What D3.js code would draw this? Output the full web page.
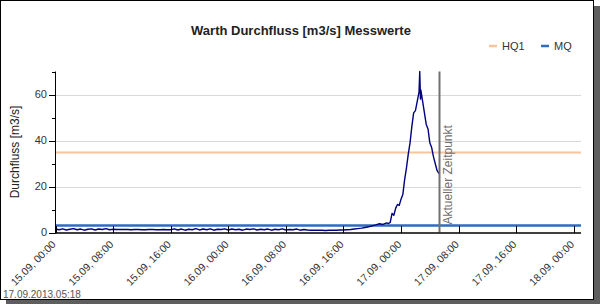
<!DOCTYPE html>
<html><head><meta charset="utf-8">
<script src="https://cdn.jsdelivr.net/npm/d3@7"></script>
<style>body{margin:0;background:#fff}svg{display:block;font-family:"Liberation Sans",Arial,sans-serif}</style>
</head><body><svg id="c" width="600" height="304"></svg>
<script>
// ---- data ----
const title = "Warth Durchfluss [m3/s] Messwerte";
const yLabel = "Durchfluss [m3/s]";
const stamp = "17.09.2013.05:18";
const nowLabel = "Aktueller Zeitpunkt";
const startTime = new Date(2013, 8, 15, 0, 0);
const endTime = new Date(2013, 8, 18, 1, 0);
const nowTime = new Date(2013, 8, 17, 5, 18);
const hq1 = 34.8;
const mq = 3.0;
const yMajorTicks = [0, 20, 40, 60];
const yMinorTicks = [10, 30, 50, 70];
const legendNames = ["HQ1", "MQ"];
// measurement hours after 15.09 00:00 (half-hourly, then quarter-hourly)
const hoursA = d3.range(0, 46, 0.5);
const flowA = [
  1.5,1.2,1.6,1.1,1.4,1.7,1.2,1.5,1.0,1.4,1.6,1.1,1.5,1.3,1.7,1.2,1.4,1.3,
  1.3,1.3,1.3,1.2,1.3,1.3,1.2,1.2,1.3,1.3,1.2,1.2,1.3,1.2,1.2,
  1.6,1.1,1.5,1.0,1.4,1.2,1.7,1.1,1.5,1.2,1.6,1.0,1.4,1.3,1.6,1.1,1.5,1.2,1.4,1.0,
  1.5,1.3,1.6,1.1,1.4,1.2,1.5,1.0,1.4,1.2,1.6,1.1,1.3,1.2,1.5,1.0,1.3,1.1,
  1.0,1.0,1.0,1.0,0.9,1.0,1.0,1.0,1.1,1.1,
  1.2,1.3,1.5,1.7,1.9,2.2,2.5,2.9,3.3,3.8,3.5
];
const hoursB = [46,46.25,46.5,46.75,47,47.25,47.5,47.75,48,48.25,48.5,48.75,49,49.25,49.5,49.75,50,50.25,50.5,50.6,50.7,50.75,51,51.25,51.5,51.75,52,52.25,52.5,52.75,53,53.3];
const flowB = [4.2,3.9,4.4,8.3,7.5,10.5,12.2,11.8,14.5,16.5,23,28,34,39,46,52,53,57,61,70,58,62,57,52,47,45,39,37,33,30,27,25.5];

const hours = hoursA.concat(hoursB);
const flow = flowA.concat(flowB);
const series = hours.map((h, i) => ({t: new Date(+startTime + h * 3600e3), v: flow[i]}));

// ---- chart ----
const svg = d3.select("#c");
// frame with shadow
svg.append("rect").attr("x", 6).attr("y", 6).attr("width", 594).attr("height", 298).attr("fill", "#5e5e5e");
svg.append("rect").attr("x", 0.5).attr("y", 0.5).attr("width", 593).attr("height", 299)
  .attr("fill", "#fff").attr("stroke", "#000").attr("stroke-width", 1);

const x = d3.scaleTime().domain([startTime, endTime]).range([55.5, 581]);
const y = d3.scaleLinear().domain([0, 70]).range([232.5, 71.5]);

// grid
svg.append("g").selectAll("line").data(yMajorTicks.filter(d => d > 0)).join("line")
  .attr("x1", 55.5).attr("x2", 581).attr("y1", d => Math.round(y(d)) + 0.5).attr("y2", d => Math.round(y(d)) + 0.5)
  .attr("stroke", "#d9d9d9").attr("stroke-width", 1);

// reference lines
svg.append("line").attr("x1", 55.5).attr("x2", 581).attr("y1", y(hq1)).attr("y2", y(hq1))
  .attr("stroke", "#f8c49a").attr("stroke-width", 2);
svg.append("line").attr("x1", 55.5).attr("x2", 581).attr("y1", y(mq)).attr("y2", y(mq))
  .attr("stroke", "#2c6cc3").attr("stroke-width", 2.5);

// data line
svg.append("path").datum(series)
  .attr("d", d3.line().x(d => x(d.t)).y(d => y(d.v)))
  .attr("fill", "none").attr("stroke", "#00007f").attr("stroke-width", 1.4).attr("stroke-linejoin", "round");

// current time line
const nx = Math.round(x(nowTime)) + 0.5;
svg.append("line").attr("x1", nx).attr("x2", nx).attr("y1", y(70)).attr("y2", y(0))
  .attr("stroke", "#707070").attr("stroke-width", 2);
svg.append("text").attr("transform", `translate(${nx + 12},${y(0) - 8}) rotate(-90)`)
  .attr("font-size", 12).attr("fill", "#707070").text(nowLabel);

// y axis
const yAxis = svg.append("g");
yAxis.append("line").attr("x1", 55.5).attr("x2", 55.5).attr("y1", y(70)).attr("y2", y(0) + 1).attr("stroke", "#000");
yAxis.selectAll(".maj").data(yMajorTicks).join("line")
  .attr("x1", 49).attr("x2", 55.5).attr("y1", d => Math.round(y(d)) + 0.5).attr("y2", d => Math.round(y(d)) + 0.5).attr("stroke", "#000");
yAxis.selectAll(".min").data(yMinorTicks).join("line")
  .attr("x1", 52).attr("x2", 55.5).attr("y1", d => Math.round(y(d)) + 0.5).attr("y2", d => Math.round(y(d)) + 0.5).attr("stroke", "#000");
yAxis.selectAll("text").data(yMajorTicks).join("text")
  .attr("x", 47).attr("y", d => y(d)).attr("dy", "0.35em").attr("text-anchor", "end")
  .attr("font-size", 11).attr("fill", "#333").text(d => d);
svg.append("text").attr("transform", `translate(19,152) rotate(-90)`).attr("text-anchor", "middle")
  .attr("font-size", 12).attr("fill", "#222").text(yLabel);

// x axis
const xTicks = d3.timeHour.every(8).range(startTime, endTime);
const fmt = d3.timeFormat("%d.%m, %H:%M");
const xAxis = svg.append("g");
xAxis.append("line").attr("x1", 55).attr("x2", 581).attr("y1", 233).attr("y2", 233).attr("stroke", "#000").attr("stroke-width", 1.5);
xAxis.selectAll(".tk").data(xTicks).join("line")
  .attr("x1", d => Math.round(x(d)) + 0.5).attr("x2", d => Math.round(x(d)) + 0.5).attr("y1", 226).attr("y2", 233).attr("stroke", "#000");
xAxis.selectAll("text").data(xTicks).join("text")
  .attr("transform", d => `translate(${x(d) + 1},${245}) rotate(-45)`)
  .attr("text-anchor", "end").attr("font-size", 10.5).attr("fill", "#333").text(d => fmt(d));

// title
svg.append("text").attr("x", 301).attr("y", 35).attr("text-anchor", "middle")
  .attr("font-size", 13).attr("font-weight", "bold").attr("fill", "#222").text(title);

// legend
const legendColors = ["#f8c49a", "#2c6cc3"];
const legendX = [489, 541];
legendNames.forEach((n, i) => {
  svg.append("line").attr("x1", legendX[i]).attr("x2", legendX[i] + 8).attr("y1", 46).attr("y2", 46)
    .attr("stroke", legendColors[i]).attr("stroke-width", 2.5);
  svg.append("text").attr("x", legendX[i] + 13).attr("y", 46).attr("dy", "0.35em")
    .attr("font-size", 11).attr("fill", "#333").text(n);
});

// timestamp
svg.append("text").attr("x", 3).attr("y", 298).attr("font-size", 10).attr("fill", "#555").text(stamp);
</script></body></html>
